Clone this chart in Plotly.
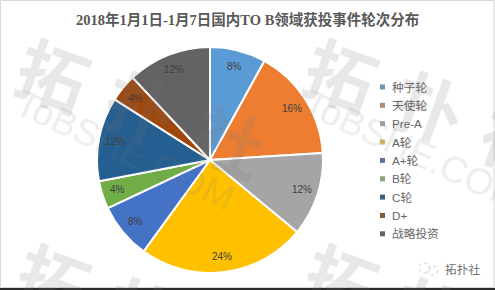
import numpy as np
import plotly.graph_objects as go

W, H = 495, 290
title = "2018年1月1日-1月7日国内TO B领域获投事件轮次分布"
categories = ["种子轮", "天使轮", "Pre-A", "A轮", "A+轮", "B轮", "C轮", "D+", "战略投资"]
counts = [2, 4, 3, 6, 2, 1, 3, 1, 3]
colors = ["#5B9BD5", "#ED7D31", "#A5A5A5", "#FFC000", "#4472C4", "#70AD47", "#255E91", "#9E480E", "#636363"]
legend_colors = ["#6C97B0", "#B08E78", "#A3A3A3", "#CDB45C", "#5F7299", "#8BA276", "#3D5F7E", "#7D5C3F", "#666666"]
watermark_brand = "拓扑社"
watermark_site = "ToBSHE.COM"
signature = "拓扑社"

CX, CY, R = 210, 160, 113
LABEL_R = 97
CJK = "Noto Sans CJK SC"

def px(x): return x / W
def py(y): return 1 - y / H

fig = go.Figure(go.Pie(
    labels=categories, values=counts, sort=False, direction="clockwise", rotation=0,
    marker=dict(colors=colors, line=dict(color="#FFFFFF", width=2)),
    textinfo="none", hoverinfo="label+percent", showlegend=False,
    domain=dict(x=[px(CX - R), px(CX + R)], y=[py(CY + R), py(CY - R)]),
))

ann = []
def rect(x0, y0, x1, y1, **kw):
    return dict(type="rect", xref="paper", yref="paper", x0=px(x0), x1=px(x1), y0=py(y1), y1=py(y0), **kw)

shapes = [
    rect(0.5, 0.5, 494, 287.5, line=dict(color="#D9D9D9", width=1), fillcolor="rgba(0,0,0,0)", layer="below"),
    rect(0, 288, 495, 290, line=dict(width=0), fillcolor="#2B2B2B"),
]

def add(text, x, y, font, xanchor="center", angle=0):
    ann.append(dict(text=text, x=px(x), y=py(y), xanchor=xanchor, yanchor="middle",
                    showarrow=False, font=font, textangle=angle))

# watermarks
wm_font = dict(family=CJK, size=70, color="rgba(120,120,120,0.17)")
for ox, oy in [(0, 0), (288, 0), (0, 205), (288, 205)]:
    for ch, dx, dy in zip(watermark_brand, [54, 142, 230], [72, 105, 138]):
        if dy + oy - 40 < H and dx + ox - 40 < W:
            add(f"<b>{ch}</b>", dx + ox, dy + oy, wm_font, angle=20)
site_font = dict(family="Liberation Sans", size=37, color="rgba(120,120,120,0.15)")
for ox in (0, 288):
    add(watermark_site, 125 + ox, 150, site_font, angle=25)

add(f"<b>{title}</b>", 247, 19, dict(family=f"Liberation Serif, {CJK}", size=14.5, color="#595959"))

vals = np.array(counts, dtype=float)
share = vals / vals.sum()
mids = (np.cumsum(share) - share / 2) * 2 * np.pi
for s, a in zip(share, mids):
    add(f"{s*100:.0f}%", CX + LABEL_R * np.sin(a), CY - LABEL_R * np.cos(a),
        dict(family="Liberation Sans", size=10, color="#404040"))

for i, (c, col) in enumerate(zip(categories, legend_colors)):
    y = 87 + i * 18.35
    shapes.append(rect(380, y - 2.5, 385, y + 2.5, fillcolor=col, line=dict(width=0)))
    add(c, 390, y, dict(family=f"Liberation Sans, {CJK}", size=11.7, color="#666666"), xanchor="left")

add(signature, 462.5, 268, dict(family=CJK, size=11.7, color="#707070"))
for x0, x1, y0, y1 in [(419, 430, 263, 273), (427, 438, 266, 275)]:
    shapes.append(dict(type="circle", xref="paper", yref="paper", x0=px(x0), x1=px(x1), y0=py(y1), y1=py(y0),
                       line=dict(color="#CCCCCC", width=1, dash="dot")))

fig.update_layout(width=W, height=H, margin=dict(l=0, r=0, t=0, b=0), paper_bgcolor="#FFFFFF",
                  annotations=ann, shapes=shapes, showlegend=False)
fig.write_html("out.html", config=dict(displayModeBar=False),
               post_script="document.body.style.margin='0';document.documentElement.style.overflow='hidden';")
